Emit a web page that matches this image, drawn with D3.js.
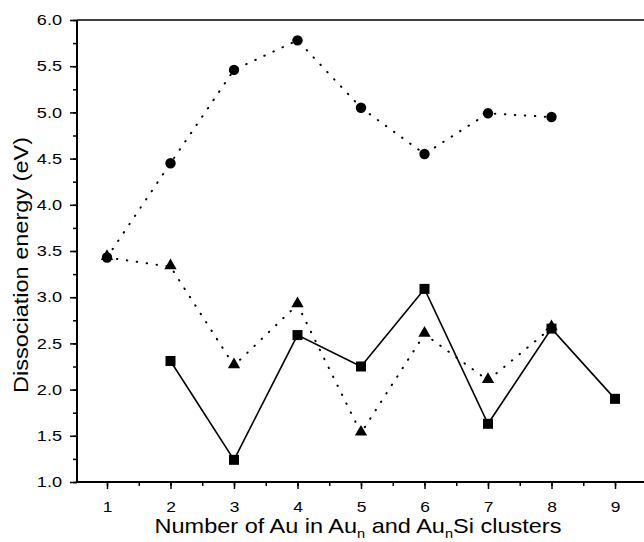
<!DOCTYPE html>
<html>
<head>
<meta charset="utf-8">
<script src="https://cdn.jsdelivr.net/npm/d3@7"></script>
<style>
  body { margin: 0; background: #fff; }
  text { font-family: "Liberation Sans", Arial, sans-serif; fill: #000; }
</style>
</head>
<body>
<div id="chart"></div>
<script>
// cluster sizes
var nCircles = [1, 2, 3, 4, 5, 6, 7, 8];
var eCircles = [3.43, 4.45, 5.46, 5.78, 5.05, 4.55, 4.99, 4.95];

var nTriangles = [1, 2, 3, 4, 5, 6, 7, 8];
var eTriangles = [3.43, 3.33, 2.26, 2.92, 1.53, 2.60, 2.10, 2.67];

var nSquares = [2, 3, 4, 5, 6, 7, 8, 9];
var eSquares = [2.31, 1.24, 2.59, 2.25, 3.09, 1.63, 2.66, 1.90];

var xTicks = [1, 2, 3, 4, 5, 6, 7, 8, 9];
var yTicks = [1.0, 1.5, 2.0, 2.5, 3.0, 3.5, 4.0, 4.5, 5.0, 5.5, 6.0];

var width = 644, height = 542;
var plotLeft = 77, plotTop = 20, plotBottom = 482, plotRight = 644;

var svg = d3.select("#chart").append("svg")
  .attr("width", width)
  .attr("height", height);

// scales
var xScale = d3.scaleLinear().domain([1, 9]).range([107, 615]);
var yScale = d3.scaleLinear().domain([1, 6]).range([plotBottom, plotTop]);

// minor ticks
var xMinor = d3.range(0.5, 9.6, 0.5).filter(function(d) { return xScale(d) > plotLeft + 1 && xScale(d) < plotRight; });
var yMinor = d3.range(1.0, 6.01, 0.25);

svg.append("g")
  .attr("transform", "translate(0," + plotBottom + ")")
  .call(d3.axisBottom(xScale).tickValues(xMinor).tickSize(4).tickFormat(""))
  .call(function(g) { g.select(".domain").remove(); })
  .selectAll("line").attr("stroke-width", 1.5);

svg.append("g")
  .attr("transform", "translate(" + plotLeft + ",0)")
  .call(d3.axisLeft(yScale).tickValues(yMinor).tickSize(4).tickFormat(""))
  .call(function(g) { g.select(".domain").remove(); })
  .selectAll("line").attr("stroke-width", 1.5);

// major ticks and labels (glyphs in the original are a bit wide, so stretch them)
var xAxis = svg.append("g")
  .attr("transform", "translate(0," + plotBottom + ")")
  .call(d3.axisBottom(xScale).tickValues(xTicks).tickSize(7).tickPadding(13).tickFormat(d3.format("d")));
xAxis.select(".domain").remove();
xAxis.selectAll("line").attr("stroke-width", 1.5);
xAxis.selectAll("text").style("font-size", "14.5px").attr("transform", "scale(1.2,1)");

var yAxis = svg.append("g")
  .attr("transform", "translate(" + plotLeft + ",0)")
  .call(d3.axisLeft(yScale).tickValues(yTicks).tickSize(7).tickPadding(5).tickFormat(d3.format(".1f")));
yAxis.select(".domain").remove();
yAxis.selectAll("line").attr("stroke-width", 1.5);
yAxis.selectAll("text").style("font-size", "14.5px").attr("transform", "scale(1.25,1)");

// frame lines: left, bottom, top
svg.append("line").attr("x1", plotLeft).attr("x2", plotLeft).attr("y1", plotTop).attr("y2", plotBottom)
  .attr("stroke", "#000").attr("stroke-width", 2);
svg.append("line").attr("x1", plotLeft).attr("x2", plotRight).attr("y1", plotBottom).attr("y2", plotBottom)
  .attr("stroke", "#000").attr("stroke-width", 2);
svg.append("line").attr("x1", plotLeft).attr("x2", plotRight).attr("y1", plotTop).attr("y2", plotTop)
  .attr("stroke", "#000").attr("stroke-width", 1.5);

// series lines
var line = d3.line()
  .x(function(d) { return xScale(d[0]); })
  .y(function(d) { return yScale(d[1]); });

function zip(a, b) { return a.map(function(v, i) { return [v, b[i]]; }); }

var circles = zip(nCircles, eCircles);
var triangles = zip(nTriangles, eTriangles);
var squares = zip(nSquares, eSquares);

svg.append("path").datum(circles).attr("d", line)
  .attr("fill", "none").attr("stroke", "#000").attr("stroke-width", 2)
  .attr("stroke-linecap", "round").attr("stroke-dasharray", "0.5,9.5");

svg.append("path").datum(triangles).attr("d", line)
  .attr("fill", "none").attr("stroke", "#000").attr("stroke-width", 2)
  .attr("stroke-linecap", "round").attr("stroke-dasharray", "0.5,9.5");

svg.append("path").datum(squares).attr("d", line)
  .attr("fill", "none").attr("stroke", "#000").attr("stroke-width", 1.6);

// markers
svg.selectAll(".circ").data(circles).enter().append("circle")
  .attr("cx", function(d) { return xScale(d[0]); })
  .attr("cy", function(d) { return yScale(d[1]); })
  .attr("r", 5.2)
  .attr("fill", "#000");

var tri = d3.symbol().type(d3.symbolTriangle).size(66);
svg.selectAll(".tri").data(triangles).enter().append("path")
  .attr("d", tri)
  .attr("transform", function(d) { return "translate(" + xScale(d[0]) + "," + (yScale(d[1]) - 1) + ")"; })
  .attr("fill", "#000");

svg.selectAll(".sq").data(squares).enter().append("rect")
  .attr("x", function(d) { return xScale(d[0]) - 5; })
  .attr("y", function(d) { return yScale(d[1]) - 5; })
  .attr("width", 10)
  .attr("height", 10)
  .attr("fill", "#000");

// axis titles
var xTitle = svg.append("text")
  .attr("transform", "translate(358,533)scale(1.12,1)")
  .attr("text-anchor", "middle")
  .style("font-size", "21px");
xTitle.append("tspan").text("Number of Au in Au");
xTitle.append("tspan").attr("dy", 5).style("font-size", "13px").text("n");
xTitle.append("tspan").attr("dy", -5).text(" and Au");
xTitle.append("tspan").attr("dy", 5).style("font-size", "13px").text("n");
xTitle.append("tspan").attr("dy", -5).text("Si clusters");

svg.append("text")
  .attr("transform", "translate(28,265)rotate(-90)scale(1.12,1)")
  .attr("text-anchor", "middle")
  .style("font-size", "21px")
  .text("Dissociation energy (eV)");
</script>
</body>
</html>
